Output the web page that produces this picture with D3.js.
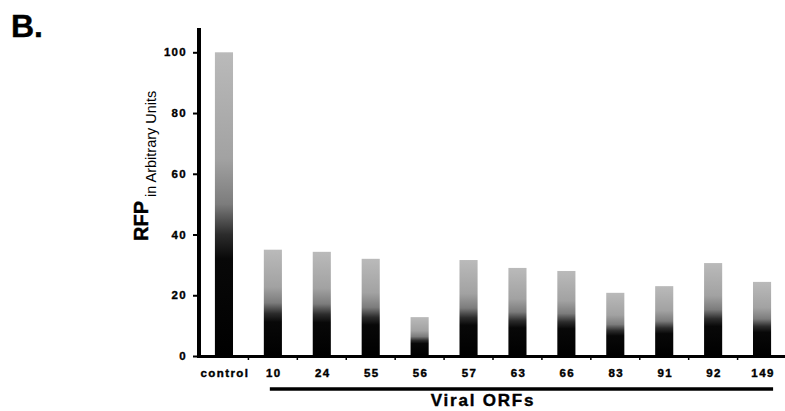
<!DOCTYPE html>
<html>
<head>
<meta charset="utf-8">
<script src="https://cdn.jsdelivr.net/npm/d3@7/dist/d3.min.js"></script>
<style>
  body { margin: 0; background: #fff; }
  svg { display: block; font-family: "Liberation Sans", Arial, sans-serif; }
  .tick text { font-weight: bold; font-size: 11.5px; letter-spacing: 1.3px; fill: #000; stroke: #000; stroke-width: 0.35px; }
  .heavy { stroke: #000; stroke-width: 0.4px; }
</style>
</head>
<body>
<svg id="chart"></svg>
<script>
var width = 785;
var height = 411;

// data
var categories = ["control", "10", "24", "55", "56", "57", "63", "66", "83", "91", "92", "149"];
var rfpValues  = [100, 35, 34.3, 32, 12.8, 31.6, 29, 28, 20.8, 23, 30.6, 24.4];
var yTicks     = [0, 20, 40, 60, 80, 100];
var viralOrfs  = categories.slice(1);

var svg = d3.select("#chart")
    .attr("width", width)
    .attr("height", height);

var x = d3.scaleBand()
    .domain(categories)
    .range([199.5, 786.5])
    .paddingInner(0.63)
    .paddingOuter(0.315);

var y = d3.scaleLinear()
    .domain([0, 108])
    .range([356, 28]);

// gray on top, black at the bottom
var grad = svg.append("defs").append("linearGradient")
    .attr("id", "barFill")
    .attr("x1", 0).attr("y1", 0).attr("x2", 0).attr("y2", 1);
[[0, "#bababa"], [0.35, "#a2a2a2"], [0.5, "#7c7c7c"], [0.6, "#2c2c2c"], [0.68, "#080808"], [1, "#000"]]
  .forEach(s => grad.append("stop").attr("offset", s[0]).attr("stop-color", s[1]));

svg.selectAll(".bar")
    .data(rfpValues)
    .enter()
    .append("rect")
    .classed("bar", true)
    .attr("x", (d, i) => x(categories[i]))
    .attr("y", d => y(d))
    .attr("width", x.bandwidth())
    .attr("height", d => y(0) - y(d))
    .attr("fill", "url(#barFill)");

// y axis: ticks from d3, thick line drawn with a break
var yAxis = d3.axisLeft(y)
    .tickValues(yTicks)
    .tickSize(4)
    .tickPadding(6);

var gy = svg.append("g")
    .attr("transform", "translate(197,0)")
    .call(yAxis);
gy.select(".domain").remove();
gy.selectAll(".tick line").attr("stroke", "#000").attr("stroke-width", 2);

svg.append("line")
    .attr("x1", 199).attr("x2", 199)
    .attr("y1", y(0) + 1.5).attr("y2", y(96.2))
    .attr("stroke", "#000").attr("stroke-width", 4);
svg.append("line")
    .attr("x1", 199).attr("x2", 199)
    .attr("y1", y(94)).attr("y2", y(108))
    .attr("stroke", "#000").attr("stroke-width", 4);

// x axis baseline
svg.append("line")
    .attr("x1", 197).attr("x2", width)
    .attr("y1", 356.5).attr("y2", 356.5)
    .attr("stroke", "#000").attr("stroke-width", 3);

var gap = x.step() - x.bandwidth();
svg.selectAll(".xtick")
    .data(categories)
    .enter()
    .append("line")
    .attr("x1", d => x(d) + x.bandwidth() + gap / 2)
    .attr("x2", d => x(d) + x.bandwidth() + gap / 2)
    .attr("y1", 357).attr("y2", 360)
    .attr("stroke", "#000").attr("stroke-width", 1.5);

svg.selectAll(".xlabel")
    .data(categories)
    .enter()
    .append("text")
    .classed("heavy", true)
    .attr("x", d => x(d) + x.bandwidth() / 2 + 1)
    .attr("y", 377)
    .attr("text-anchor", "middle")
    .style("font-weight", "bold")
    .style("font-size", "11.5px")
    .style("letter-spacing", "1.4px")
    .text(d => d);

// bracket under the viral ORFs
svg.append("line")
    .attr("x1", x(viralOrfs[0]) + 6)
    .attr("x2", x(viralOrfs[viralOrfs.length - 1]) + x.bandwidth() + 2)
    .attr("y1", 389).attr("y2", 389)
    .attr("stroke", "#000").attr("stroke-width", 3.5);

svg.append("text")
    .classed("heavy", true)
    .attr("x", 483)
    .attr("y", 406)
    .attr("text-anchor", "middle")
    .style("font-weight", "bold")
    .style("font-size", "17px")
    .style("letter-spacing", "1.8px")
    .text("Viral ORFs");

// y title
var yt = svg.append("text")
    .attr("transform", "translate(148,241) rotate(-90)");
yt.append("tspan")
    .classed("heavy", true)
    .style("font-weight", "bold")
    .style("font-size", "20px")
    .text("RFP");
yt.append("tspan")
    .attr("dx", 4)
    .attr("dy", 8)
    .style("font-size", "14.5px")
    .text("in Arbitrary Units");

svg.append("text")
    .classed("heavy", true)
    .attr("x", 11)
    .attr("y", 37)
    .style("font-weight", "bold")
    .style("font-size", "32px")
    .text("B.");
</script>
</body>
</html>
